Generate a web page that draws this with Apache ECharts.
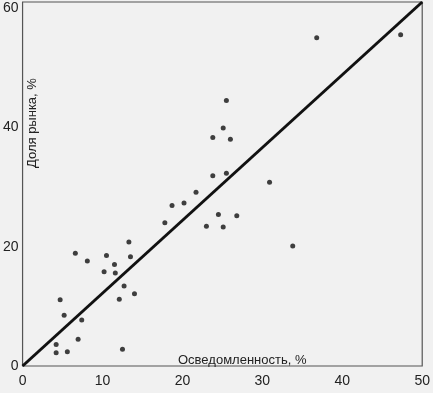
<!DOCTYPE html>
<html>
<head>
<meta charset="utf-8">
<script src="https://cdn.jsdelivr.net/npm/echarts@6/dist/echarts.min.js"></script>
<style>
html,body{margin:0;padding:0;background:#f1f1f1;}
#c{width:433px;height:393px;}
</style>
</head>
<body>
<div id="c"></div>
<script>
// Awareness (%) per brand
const awareness = [36.8, 47.3, 25.5, 25.1, 23.8, 26.0, 23.8, 25.5, 21.7, 18.7, 20.2, 17.8,
  24.5, 26.8, 23.0, 25.1, 30.9, 33.8, 13.3, 6.6, 8.1, 10.5, 13.5, 11.5, 10.2, 11.6,
  12.7, 14.0, 12.1, 4.7, 5.2, 7.4, 6.95, 4.2, 4.2, 5.6, 12.5];
// Market share (%) per brand
const share = [55.0, 55.5, 44.5, 39.9, 38.3, 38.0, 31.9, 32.3, 29.1, 26.9, 27.3, 24.0,
  25.4, 25.2, 23.4, 23.3, 30.8, 20.1, 20.8, 18.9, 17.6, 18.5, 18.3, 17.0, 15.8, 15.6,
  13.4, 12.1, 11.2, 11.1, 8.5, 7.7, 4.5, 3.6, 2.2, 2.4, 2.8];
// Diagonal reference line
const lineX = [0, 50];
const lineY = [0, 61];
const xTicks = [0, 10, 20, 30, 40, 50];
const yTicks = [0, 20, 40, 60];
const xName = 'Осведомленность, %';
const yName = 'Доля рынка, %';

const chart = echarts.init(document.getElementById('c'));
const font = 'Liberation Sans, Arial, sans-serif';
chart.setOption({
  backgroundColor: '#f1f1f1',
  animation: false,
  grid: {left: 20, right: 5, top: 2, bottom: 27, show: true, borderColor: '#555', borderWidth: 1.2, backgroundColor: 'transparent'},
  xAxis: {
    type: 'value', min: xTicks[0], max: xTicks[xTicks.length-1], interval: 10,
    axisLine: {show: false}, axisTick: {show: false}, splitLine: {show: false},
    axisLabel: {color: '#222', fontSize: 14, fontFamily: font, margin: 8}
  },
  yAxis: {
    type: 'value', min: 0, max: lineY[1], interval: 20,
    axisLine: {show: false}, axisTick: {show: false}, splitLine: {show: false},
    axisLabel: {color: '#222', fontSize: 14, fontFamily: font, margin: 4, showMaxLabel: false,
      formatter: v => (yTicks.indexOf(v) >= 0 ? String(v) : '')}
  },
  graphic: [
    {type: 'text', left: 178, top: 354, style: {text: xName, fontSize: 13, fontFamily: font, fill: '#222'}},
    {type: 'text', x: 26, y: 168, rotation: Math.PI/2, style: {text: yName, fontSize: 13, fontFamily: font, fill: '#222'}}
  ],
  series: [
    {type: 'line', data: lineX.map((x, i) => [x, lineY[i]]), symbol: 'none',
     lineStyle: {color: '#111', width: 3}, z: 2},
    {type: 'scatter', data: awareness.map((x, i) => [x, share[i]]), symbolSize: 5,
     itemStyle: {color: '#111'}, z: 3}
  ]
});
</script>
</body>
</html>
